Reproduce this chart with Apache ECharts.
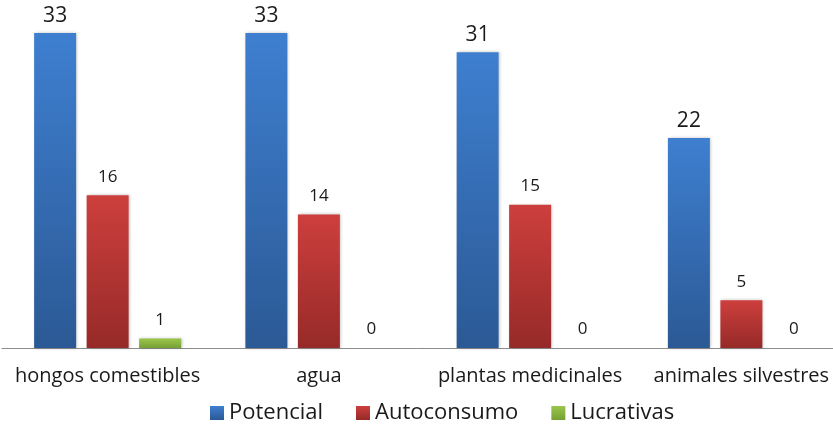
<!DOCTYPE html>
<html>
<head>
<meta charset="utf-8">
<script src="https://cdn.jsdelivr.net/npm/echarts@6/dist/echarts.min.js"></script>
<style>
  html, body { margin: 0; padding: 0; background: #fff; }
  #chart { width: 833px; height: 427px; }
</style>
</head>
<body>
<div id="chart"></div>
<script>
const categories = ['hongos comestibles', 'agua', 'plantas medicinales', 'animales silvestres'];
const potencial = [33, 33, 31, 22];
const autoconsumo = [16, 14, 15, 5];
const lucrativas = [1, 0, 0, 0];

const FONT = '"Open Sans", "Noto Sans", sans-serif';

function grad(top, bottom) {
  return new echarts.graphic.LinearGradient(0, 0, 0, 1, [
    { offset: 0, color: top },
    { offset: 1, color: bottom }
  ]);
}

function barSeries(name, data, top, bottom, labelSize, labelGap) {
  return {
    name: name,
    type: 'bar',
    data: data,
    barWidth: 42,
    barGap: '25%',
    itemStyle: {
      color: grad(top, bottom),
      shadowColor: 'rgba(0,0,0,0.25)',
      shadowBlur: 3,
      shadowOffsetX: 1,
      shadowOffsetY: 0
    },
    label: {
      show: true,
      position: 'top',
      distance: labelGap,
      color: '#1a1a1a',
      fontFamily: FONT,
      fontSize: labelSize
    }
  };
}

const chart = echarts.init(document.getElementById('chart'), null, { renderer: 'canvas' });
chart.setOption({
  animation: false,
  color: ['#3b7bcb', '#c83c3a', '#8db843'],
  grid: { left: 2, right: -14, top: 14, bottom: 79, containLabel: false, outerBoundsMode: 'none' },
  legend: {
    left: 205,
    top: 397,
    itemWidth: 14,
    itemHeight: 14,
    itemGap: 33,
    icon: 'rect',
    textStyle: { fontFamily: FONT, fontSize: 22, color: '#1a1a1a' },
    data: ['Potencial', 'Autoconsumo', 'Lucrativas']
  },
  xAxis: {
    type: 'category',
    data: categories,
    axisLine: { lineStyle: { color: '#8c8c8c', width: 1 } },
    axisTick: { show: false },
    axisLabel: { interval: 0, hideOverlap: false, fontFamily: FONT, fontSize: 20, color: '#1a1a1a', margin: 18 }
  },
  yAxis: {
    type: 'value',
    min: 0,
    max: 35,
    show: false,
    splitLine: { show: false }
  },
  series: [
    barSeries('Potencial', potencial, '#3e7fd0', '#2b5995', 21, 7),
    barSeries('Autoconsumo', autoconsumo, '#cd3f3d', '#962a28', 17, 10),
    barSeries('Lucrativas', lucrativas, '#9ac64c', '#77a033', 17, 10)
  ]
});
</script>
</body>
</html>
